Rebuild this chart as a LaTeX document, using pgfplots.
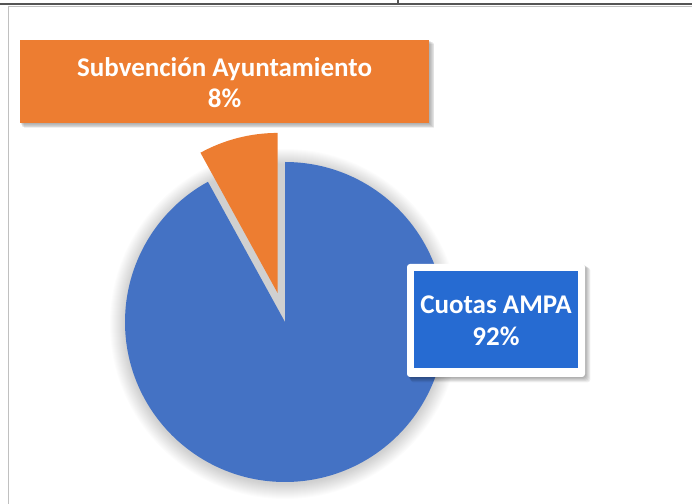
\documentclass[border=0pt]{standalone}
\usepackage{pgfplots}
\pgfplotsset{compat=1.18}
\usepackage{pgfplotstable}
\usepackage{fontspec}
\setmainfont{Carlito}
\definecolor{pieblue}{HTML}{4472C4}
\definecolor{pieorange}{HTML}{ED7D31}
\definecolor{lblblue}{HTML}{266BD2}
\definecolor{framegray}{HTML}{C0C0C0}
\definecolor{topdark}{HTML}{555555}
\pgfplotstableread{
label value
Cuotas 92
Subvencion 8
}\piedata
\begin{document}
\begin{tikzpicture}
\pgfplotstablegetelem{0}{value}\of\piedata \pgfmathtruncatemacro\va{\pgfplotsretval}
\pgfplotstablegetelem{1}{value}\of\piedata \pgfmathtruncatemacro\vb{\pgfplotsretval}
\pgfmathsetmacro\aend{90-3.6*\va}
\pgfmathsetmacro\bend{90+3.6*\vb}
\pgfmathsetmacro\amid{90+1.8*\vb}
\pgfmathsetmacro\ox{285+30*cos(\amid)}
\pgfmathsetmacro\oy{182+30*sin(\amid)}
\begin{axis}[width=692bp,height=504bp,scale only axis,hide axis,
  xmin=0,xmax=692,ymin=0,ymax=504,clip=false]
% frame
\draw[topdark,line width=1.3bp] (axis cs:0,500) -- (axis cs:692,500);
\draw[topdark,line width=1.3bp] (axis cs:398,500) -- (axis cs:398,504);
\draw[framegray,line width=1.5bp] (axis cs:8.5,497.5) -- (axis cs:692,497.5);
\draw[framegray,line width=1.5bp] (axis cs:8.5,497.5) -- (axis cs:8.5,0);
% pie shadow
\pgfplotsinvokeforeach{1,...,16}{
  \fill[black,opacity=0.011] (axis cs:285,180) circle[radius={(159+#1)*1bp}];
}
% pie slices
\fill[pieblue] (axis cs:285,182) -- ++(90:160bp) arc[start angle=90,end angle=\aend,radius=160bp] -- cycle;
\fill[pieorange] (axis cs:\ox,\oy) -- ++(90:160bp) arc[start angle=90,end angle=\bend,radius=160bp] -- cycle;
% orange label
\pgfplotsinvokeforeach{1,...,6}{
  \fill[black,opacity=0.06] (axis cs:{20+#1*0.6},{381-#1*0.9}) rectangle (axis cs:{429+#1*0.9},{464-#1*0.6});
}
\fill[pieorange] (axis cs:20,381) rectangle (axis cs:429,464);
\node[align=center,text=white,font=\fontsize{27bp}{31.5bp}\selectfont\bfseries] at (axis cs:224.5,421.5) {Subvención Ayuntamiento\\\vb\%};
% blue label
\pgfplotsinvokeforeach{1,...,6}{
  \fill[black,opacity=0.06,rounded corners=3bp] (axis cs:{407+#1*0.6},{127-#1*0.9}) rectangle (axis cs:{585+#1*0.9},{240-#1*0.6});
}
\fill[white,rounded corners=3bp] (axis cs:407,127) rectangle (axis cs:585,240);
\fill[lblblue] (axis cs:414,136) rectangle (axis cs:578,233);
\node[align=center,text=white,font=\fontsize{27bp}{32bp}\selectfont\bfseries] at (axis cs:496,183.5) {Cuotas AMPA\\\va\%};
\end{axis}
\pgfresetboundingbox
\path (0,0) rectangle (692bp,504bp);
\end{tikzpicture}
\end{document}
